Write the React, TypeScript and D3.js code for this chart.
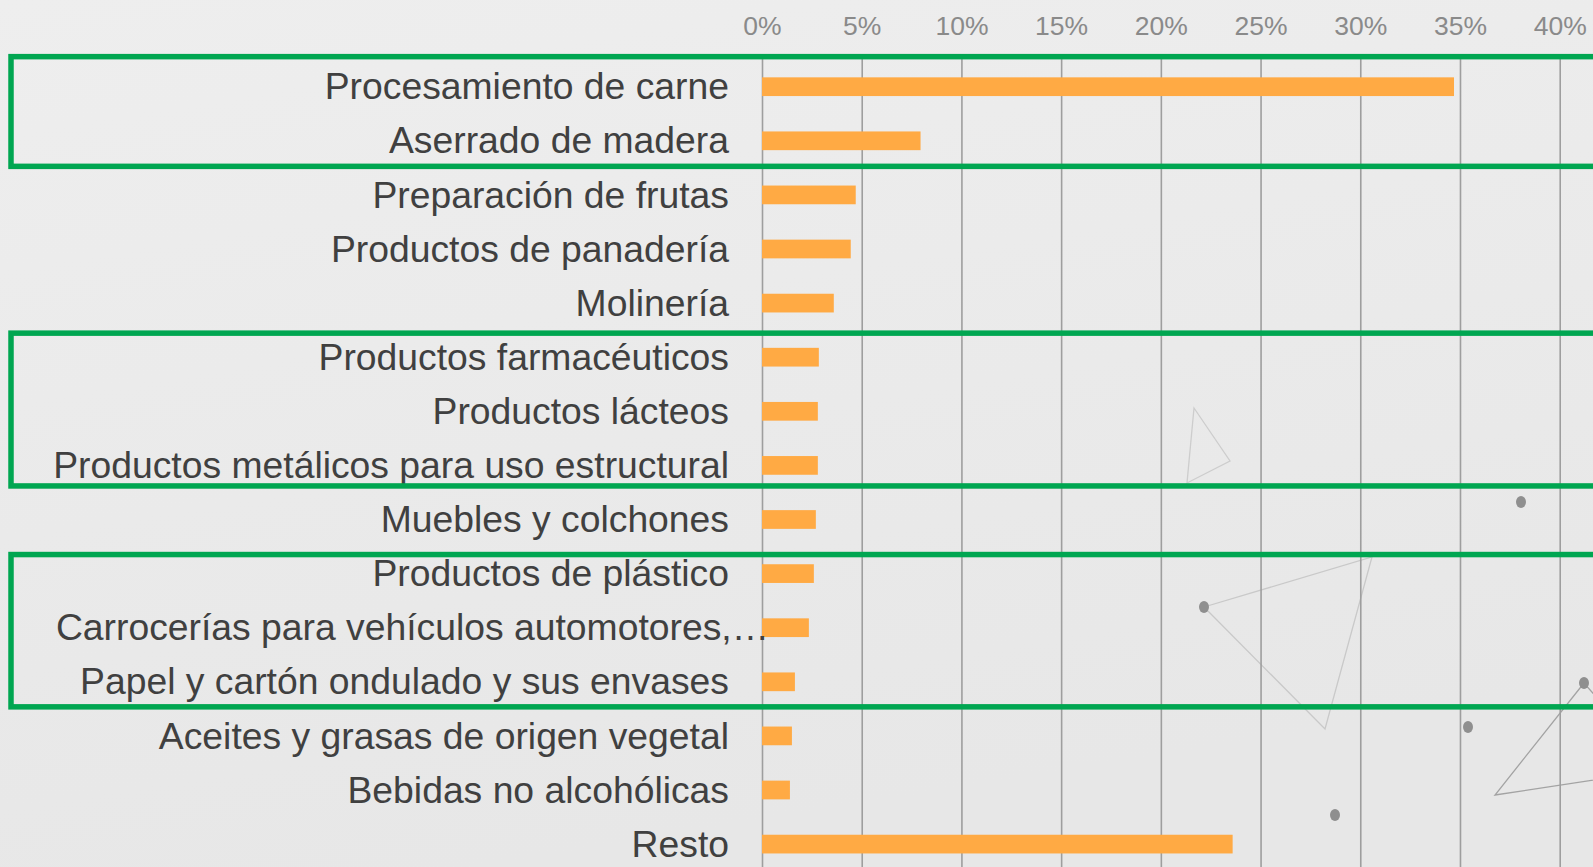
import React, { useEffect, useRef } from "react";
import * as d3 from "d3";

// DATA
const categories = [
  "Procesamiento de carne",
  "Aserrado de madera",
  "Preparación de frutas",
  "Productos de panadería",
  "Molinería",
  "Productos farmacéuticos",
  "Productos lácteos",
  "Productos metálicos para uso estructural",
  "Muebles y colchones",
  "Productos de plástico",
  "Carrocerías para vehículos automotores,…",
  "Papel y cartón ondulado y sus envases",
  "Aceites y grasas de origen vegetal",
  "Bebidas no alcohólicas",
  "Resto",
];

const shares = [
  0.347, 0.0795, 0.047, 0.0445, 0.036, 0.0285, 0.028, 0.028, 0.027, 0.026,
  0.0235, 0.0165, 0.015, 0.014, 0.236,
];

const xTicks = [0, 0.05, 0.1, 0.15, 0.2, 0.25, 0.3, 0.35, 0.4];

// highlighted groups (first and last category of each green box)
const groups = [
  ["Procesamiento de carne", "Aserrado de madera"],
  ["Productos farmacéuticos", "Productos metálicos para uso estructural"],
  ["Productos de plástico", "Papel y cartón ondulado y sus envases"],
];

// hand drawn boxes are not exactly on the row boundaries (top, bottom nudge in px)
const boxNudge = [
  [-3, -1.5],
  [3, -6.5],
  [8, -2],
];

export default function App() {
  const ref = useRef<SVGSVGElement | null>(null);

  useEffect(() => {
    document.body.style.margin = "0";
    document.body.style.overflow = "hidden";

    const W = 1593;
    const H = 867;
    const svg = d3.select(ref.current);
    svg.selectAll("*").remove();

    const font = "'Liberation Sans', Arial, sans-serif";

    // BACKGROUND
    const defs = svg.append("defs");
    const grad = defs
      .append("linearGradient")
      .attr("id", "bg")
      .attr("x1", 0)
      .attr("y1", 0)
      .attr("x2", 0.3)
      .attr("y2", 1);
    grad.append("stop").attr("offset", "0%").attr("stop-color", "#eeeeee");
    grad.append("stop").attr("offset", "100%").attr("stop-color", "#e7e7e7");
    svg.append("rect").attr("width", W).attr("height", H).attr("fill", "url(#bg)");

    // DECORATION (slide background shapes)
    const deco = svg.append("g");
    const tri = (pts: number[][], color: string) =>
      deco
        .append("polygon")
        .attr("points", pts.map((p) => p.join(",")).join(" "))
        .attr("fill", "none")
        .attr("stroke", color)
        .attr("stroke-width", 1.3);
    tri([[1194, 408], [1230, 461], [1187, 483]], "#cdcdcd");
    tri([[1204, 607], [1372, 557], [1325, 729]], "#c9c9c9");
    tri([[1584, 683], [1495, 795], [1660, 770]], "#a3a3a3");
    [[1521, 502], [1204, 607], [1468, 727], [1335, 815], [1584, 683]].forEach(([cx, cy]) =>
      deco
        .append("ellipse")
        .attr("cx", cx)
        .attr("cy", cy)
        .attr("rx", 5)
        .attr("ry", 6)
        .attr("fill", "#8f8f8f")
    );

    // SCALES
    const xScale = d3.scaleLinear().domain([0, 0.4]).range([762, 1559.7]);
    const step = 54.1;
    const top = 59.65;
    const yScale = d3
      .scaleBand()
      .domain(categories)
      .range([top, top + step * categories.length])
      .paddingInner(0.654)
      .paddingOuter(0.327);

    // X GRID
    const grid = svg
      .append("g")
      .attr("transform", `translate(0,${top - 1})`)
      .call(
        d3
          .axisBottom(xScale)
          .tickValues(xTicks)
          .tickSize(H - top + 1)
          .tickFormat(() => "")
      );
    grid.select(".domain").remove();
    grid.selectAll("line").attr("stroke", "#9e9e9e").attr("stroke-width", 1.6);

    // X AXIS ON TOP
    const xAxis = svg
      .append("g")
      .attr("transform", "translate(0,35)")
      .call(
        d3
          .axisTop(xScale)
          .tickValues(xTicks)
          .tickSize(0)
          .tickPadding(0)
          .tickFormat(d3.format(".0%") as any)
      );
    xAxis.select(".domain").remove();
    xAxis
      .selectAll("text")
      .attr("fill", "#8a8a8a")
      .style("font-family", font)
      .style("font-size", "26.5px");

    // BARS
    svg
      .append("g")
      .selectAll("rect")
      .data(categories)
      .join("rect")
      .attr("x", xScale(0))
      .attr("y", (d) => yScale(d) as number)
      .attr("width", (d, i) => xScale(shares[i]) - xScale(0))
      .attr("height", yScale.bandwidth())
      .attr("fill", "#ffaa44");

    // Y AXIS LABELS
    const yAxis = svg
      .append("g")
      .attr("transform", `translate(${xScale(0)},0)`)
      .call(d3.axisLeft(yScale).tickSize(0).tickPadding(33));
    yAxis.select(".domain").remove();
    yAxis
      .selectAll("text")
      .attr("fill", "#404040")
      .attr("dy", "0.34em")
      .style("font-family", font)
      .style("font-size", "37.3px");
    // truncated label runs into the axis
    yAxis
      .selectAll("text")
      .filter((d: any) => String(d).endsWith("…"))
      .attr("x", 7);

    // GREEN HIGHLIGHT BOXES
    const gap = (step - yScale.bandwidth()) / 2;
    const boxTop = (g: string[], i: number) => (yScale(g[0]) as number) - gap + boxNudge[i][0];
    const boxBottom = (g: string[], i: number) =>
      (yScale(g[1]) as number) + yScale.bandwidth() + gap + boxNudge[i][1];
    svg
      .append("g")
      .selectAll("rect")
      .data(groups)
      .join("rect")
      .attr("x", 11)
      .attr("y", (g, i) => boxTop(g, i))
      .attr("width", W + 20)
      .attr("height", (g, i) => boxBottom(g, i) - boxTop(g, i))
      .attr("fill", "none")
      .attr("stroke", "#00a651")
      .attr("stroke-width", 5.5);
  }, []);

  return <svg ref={ref} width={1593} height={867} style={{ display: "block" }} />;
}
